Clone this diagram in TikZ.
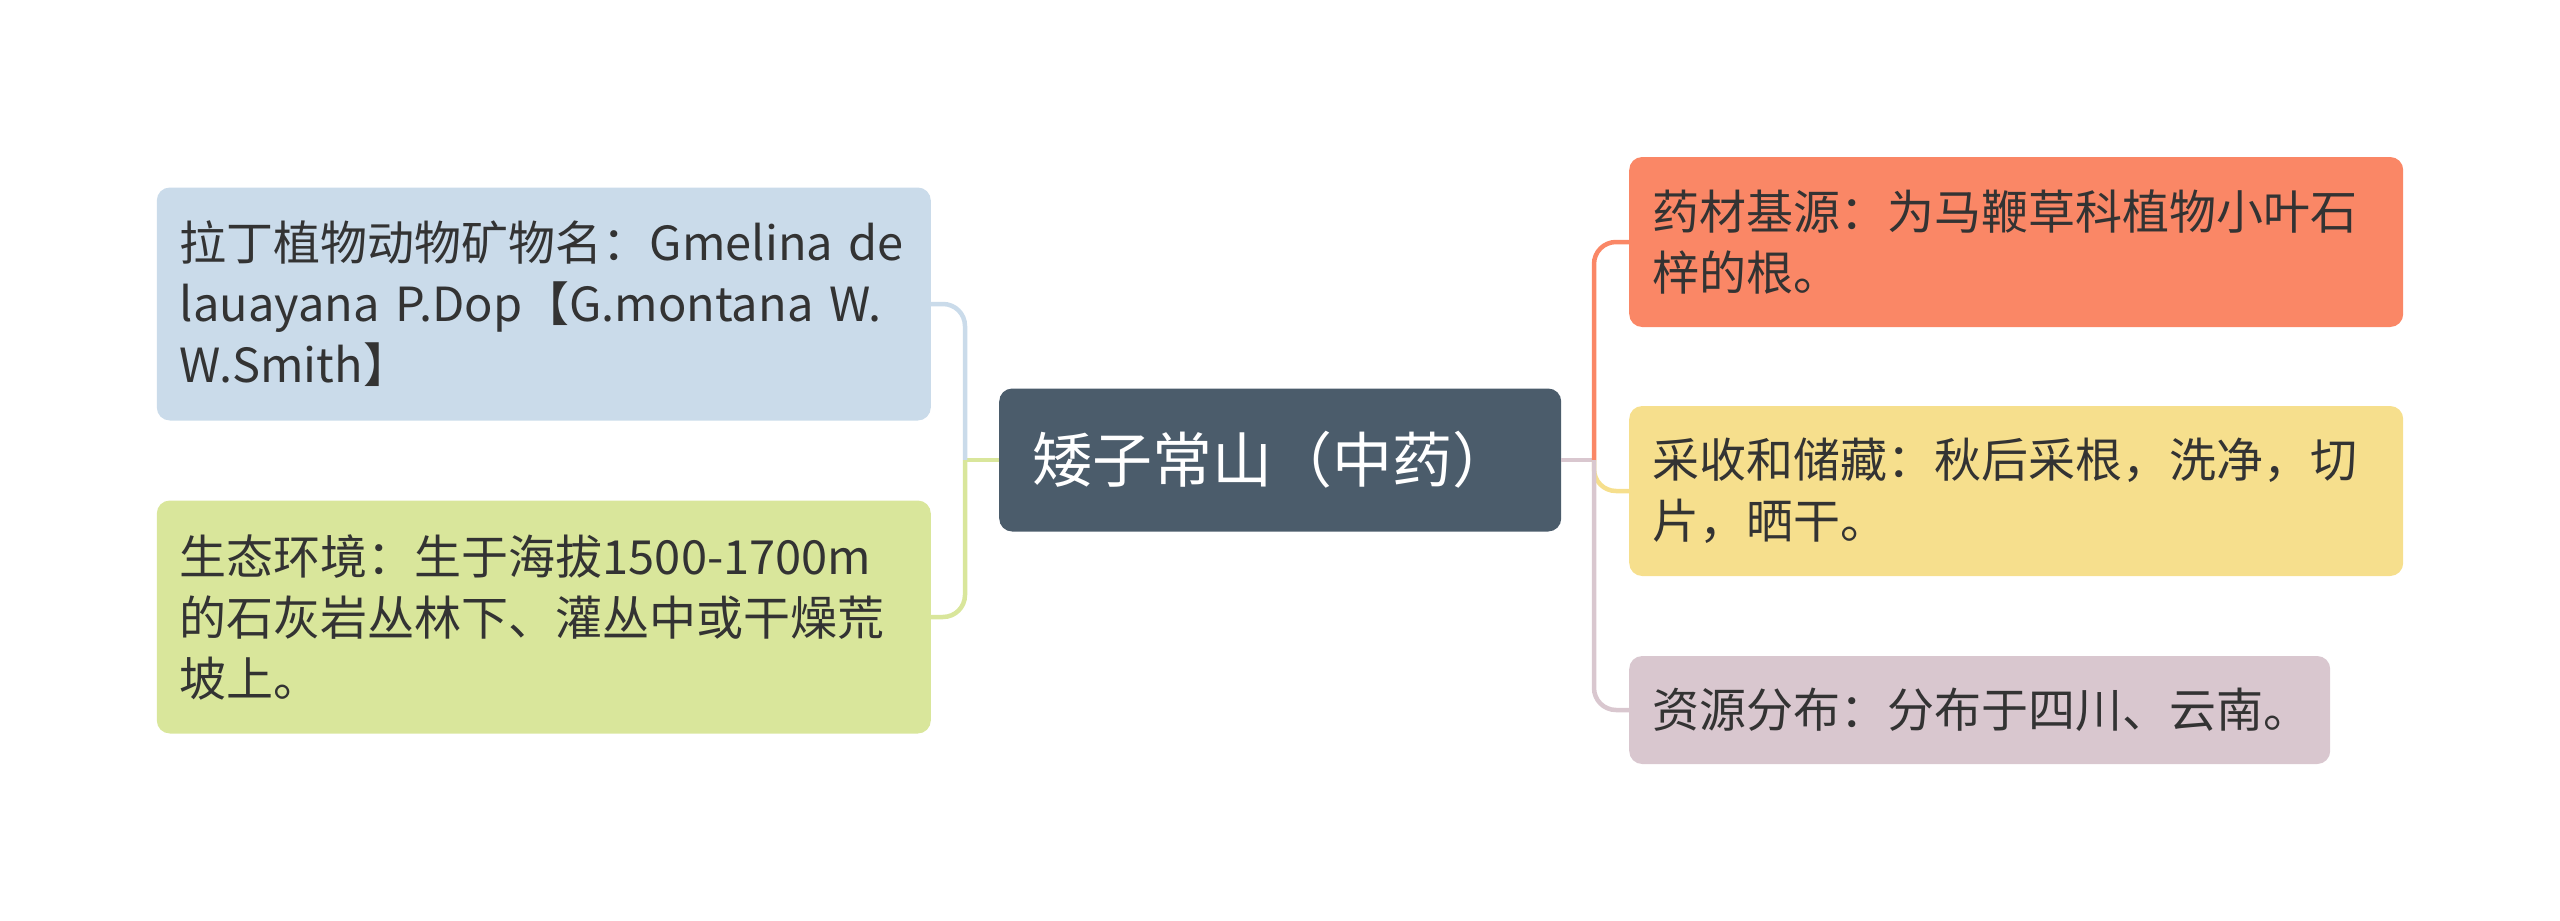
\documentclass[tikz,border=0pt]{standalone}
\usepackage{fontspec}
\setmainfont{Noto Sans CJK SC}
\definecolor{cblue}{HTML}{CADBEA}
\definecolor{cgreen}{HTML}{D9E69B}
\definecolor{corange}{HTML}{FA8766}
\definecolor{cyellow}{HTML}{F6DF8D}
\definecolor{cmauve}{HTML}{D9C7CF}
\definecolor{ccenter}{HTML}{4B5C6B}
\definecolor{ctext}{HTML}{333333}
\tikzset{
  leaf/.style={rounded corners=13pt, inner xsep=23pt, inner ysep=0pt, align=left,
    text=ctext, font=\fontsize{47}{61}\selectfont},
  conn/.style={line width=4.5pt, rounded corners=22pt},
}
\begin{document}
\begin{tikzpicture}[x=1pt,y=-1pt]
\useasboundingbox (0,0) rectangle (2560,921);
% center
\node[rounded corners=13pt, fill=ccenter, text=white, anchor=west, inner xsep=33pt,
  minimum width=562pt, minimum height=143pt, text width=496pt, align=left,
  font=\fontsize{60}{72}\selectfont] (c) at (999,460) {矮子常山（中药）};
% left
\node[leaf, fill=cblue, anchor=east, text width=728pt, minimum height=233pt] (lt) at (931,304)
  {拉丁植物动物矿物名：Gmelina de\\lauayana P.Dop【G.montana W.\\W.Smith】};
\node[leaf, fill=cgreen, anchor=east, text width=728pt, minimum height=233pt] (lb) at (931,617)
  {生态环境：生于海拔1500-1700m\\的石灰岩丛林下、灌丛中或干燥荒\\坡上。};
% right
\node[leaf, fill=corange, anchor=west, text width=728pt, minimum height=170pt] (rt) at (1629,242)
  {药材基源：为马鞭草科植物小叶石\\梓的根。};
\node[leaf, fill=cyellow, anchor=west, text width=728pt, minimum height=170pt] (rm) at (1629,491)
  {采收和储藏：秋后采根，洗净，切\\片，晒干。};
\node[leaf, fill=cmauve, anchor=west, text width=655pt, minimum height=108pt] (rb) at (1629,710)
  {资源分布：分布于四川、云南。};
% junctions
\coordinate (rj) at (1594,460);
\coordinate (lj) at (965,460);
\draw[line width=4.5pt, cmauve] (c.east) -- (rj);
\draw[line width=4.5pt, cgreen] (c.west) -- (lj);
\draw[conn, corange] (rj) |- (rt.west);
\draw[conn, cyellow] (rj) |- (rm.west);
\draw[conn, cmauve] (rj) |- (rb.west);
\draw[conn, cblue] (lj) |- (lt.east);
\draw[conn, cgreen] (lj) |- (lb.east);
\end{tikzpicture}
\end{document}
